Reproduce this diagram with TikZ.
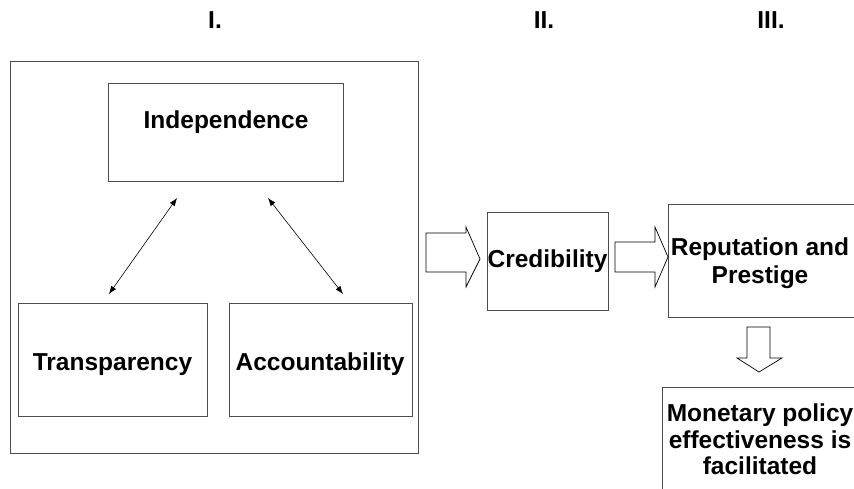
\documentclass[tikz,border=0pt]{standalone}
\usepackage{fontspec}
\setmainfont{Liberation Sans}
\usetikzlibrary{arrows.meta}
\begin{document}
\begin{tikzpicture}[x=1pt,y=-1pt,
  box/.style={draw=black!70, line width=0.9pt, inner sep=0pt, rectangle},
  txt/.style={inner sep=0pt, font=\bfseries\fontsize{24.5}{28}\selectfont, align=center},
  blk/.style={draw=black, line width=0.7pt, fill=white, line join=miter},
  dbl/.style={{Latex[length=8pt,width=6pt]}-{Latex[length=8pt,width=6pt]}, line width=0.6pt}]
\useasboundingbox (0,0) rectangle (854,488);
\clip (0,0) rectangle (854,488);
% headings
\node[txt, anchor=base] (h1) at (215,28) {I.};
\node[txt, anchor=base] (h2) at (544,28) {II.};
\node[txt, anchor=base] (h3) at (771,28) {III.};
% outer box
\node[box, minimum width=408pt, minimum height=392pt] (outer) at (214,257) {};
% inner boxes
\node[box, minimum width=235pt, minimum height=98pt] (ind) at (225.5,132) {};
\node[txt, anchor=base] (indt) at (226,128) {Independence};
\node[box, minimum width=189pt, minimum height=113pt] (tr) at (112.5,359.5) {};
\node[txt, anchor=base] (trt) at (112.5,370) {Transparency};
\node[box, minimum width=183pt, minimum height=113pt] (ac) at (320.5,359.5) {};
\node[txt, anchor=base] (act) at (320,370) {Accountability};
\node[box, minimum width=121pt, minimum height=98pt] (cr) at (547.5,261) {};
\node[txt, anchor=base] (crt) at (547.5,267) {Credibility};
\node[box, minimum width=200pt, minimum height=113pt] (rp) at (768,260.5) {};
\node[txt, anchor=north] (rpt) at (760,238) {Reputation and\\Prestige};
\node[box, minimum width=210pt, minimum height=130pt] (mp) at (767,452) {};
\node[txt, anchor=north, font=\bfseries\fontsize{24.5}{26.5}\selectfont] (mpt) at (760,404) {Monetary policy\\effectiveness is\\facilitated};
% double arrows
\coordinate (a1) at (177,198);
\coordinate (a2) at (109,294);
\coordinate (b1) at (268,198);
\coordinate (b2) at (343,294);
\draw[dbl] (a1) -- (a2);
\draw[dbl] (b1) -- (b2);
% block arrows
\draw[blk] (426,233) -- (466,233) -- (466,227) -- (480,259) -- (466,287) -- (466,272) -- (426,272) -- cycle;
\draw[blk] (615,242) -- (655,242) -- (655,227) -- (668,257) -- (655,287) -- (655,272) -- (615,272) -- cycle;
\draw[blk] (747,327) -- (770,327) -- (770,358) -- (782,358) -- (759,372) -- (737,358) -- (747,358) -- cycle;
\end{tikzpicture}
\end{document}
